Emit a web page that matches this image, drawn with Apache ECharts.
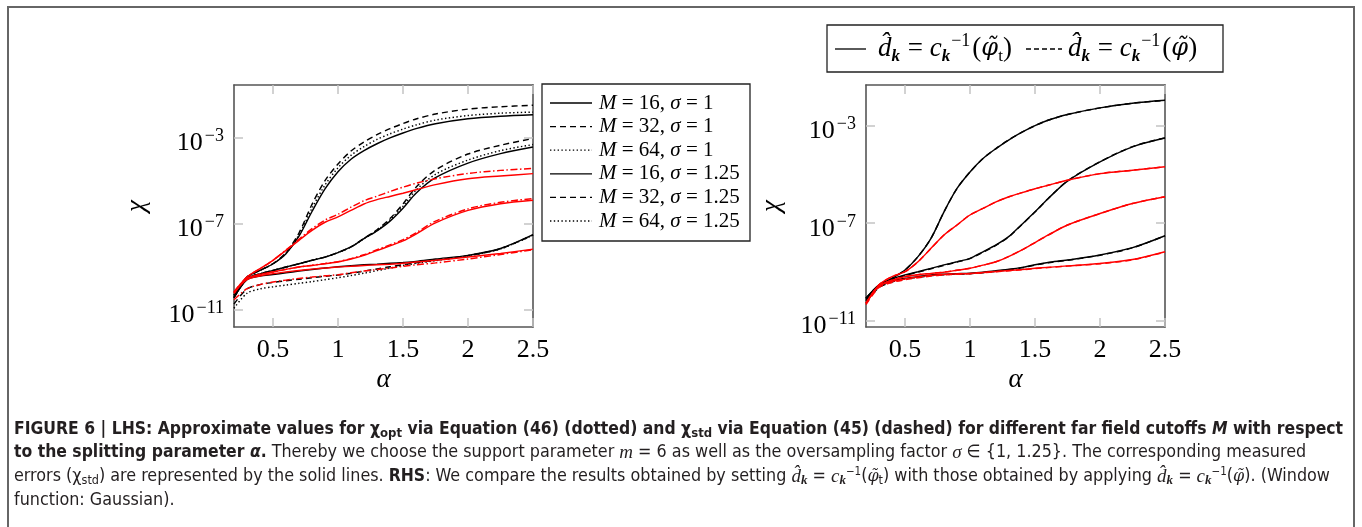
<!DOCTYPE html>
<html>
<head>
<meta charset="utf-8">
<script src="https://cdn.jsdelivr.net/npm/echarts@6.0.0/dist/echarts.min.js"></script>
<style>
  html, body { margin: 0; padding: 0; background: #fff; }
  #chart { width: 1362px; height: 527px; }
</style>
</head>
<body>
<div id="chart"></div>
<script>
// alpha (splitting parameter) sample points
const alpha = [0.2, 0.3, 0.4, 0.5, 0.6, 0.7, 0.8, 0.9, 1.0, 1.1, 1.2, 1.3, 1.4, 1.5, 1.6, 1.75, 2.0, 2.25, 2.5];

// LHS, values are log10(chi)
// black: sigma = 1, red: sigma = 1.25
const lhsBlackM16Solid  = [-10.35, -9.5, -9.19, -8.88, -8.41, -7.6, -6.45, -5.4, -4.6, -4.02, -3.62, -3.3, -3.03, -2.8, -2.6, -2.37, -2.14, -2.02, -1.95];
const lhsBlackM16Dashed = [-10.35, -9.5, -9.19, -8.88, -8.36, -7.45, -6.12, -5.02, -4.24, -3.64, -3.22, -2.88, -2.6, -2.36, -2.15, -1.92, -1.69, -1.58, -1.51];
const lhsBlackM16Dotted = [-10.35, -9.5, -9.19, -8.88, -8.39, -7.53, -6.3, -5.22, -4.42, -3.84, -3.43, -3.1, -2.84, -2.62, -2.43, -2.2, -1.99, -1.88, -1.83];
const lhsBlackM32Solid  = [-10.45, -9.57, -9.35, -9.19, -9.03, -8.88, -8.72, -8.57, -8.36, -8.1, -7.71, -7.35, -6.9, -6.3, -5.6, -4.88, -4.2, -3.76, -3.45];
const lhsBlackM32Dashed = [-10.45, -9.57, -9.35, -9.19, -9.03, -8.88, -8.72, -8.57, -8.36, -8.1, -7.7, -7.3, -6.78, -6.1, -5.32, -4.52, -3.78, -3.37, -3.06];
const lhsBlackM32Dotted = [-10.45, -9.57, -9.35, -9.19, -9.03, -8.88, -8.72, -8.57, -8.36, -8.1, -7.71, -7.33, -6.84, -6.2, -5.46, -4.72, -4.06, -3.62, -3.34];
const lhsBlackM64Solid  = [-10.45, -9.62, -9.45, -9.38, -9.3, -9.22, -9.15, -9.08, -9.02, -8.97, -8.93, -8.9, -8.86, -8.82, -8.77, -8.66, -8.49, -8.17, -7.53];
const lhsBlackM64Dashed = [-10.75, -10.05, -9.85, -9.75, -9.67, -9.6, -9.53, -9.46, -9.4, -9.32, -9.22, -9.12, -9.02, -8.92, -8.84, -8.72, -8.5, -8.18, -7.54];
const lhsBlackM64Dotted = [-10.95, -10.25, -10.05, -9.95, -9.87, -9.79, -9.71, -9.62, -9.53, -9.43, -9.32, -9.2, -9.08, -8.96, -8.86, -8.74, -8.51, -8.19, -7.55];
const lhsRedM16Solid    = [-10.19, -9.5, -9.11, -8.72, -8.26, -7.79, -7.33, -6.95, -6.7, -6.4, -6.1, -5.9, -5.75, -5.6, -5.44, -5.2, -4.93, -4.8, -4.69];
const lhsRedM16Approx   = [-10.19, -9.5, -9.11, -8.72, -8.24, -7.74, -7.25, -6.85, -6.58, -6.25, -5.95, -5.74, -5.52, -5.32, -5.14, -4.93, -4.68, -4.54, -4.45];
const lhsRedM32Solid    = [-10.25, -9.57, -9.38, -9.26, -9.14, -9.03, -8.96, -8.88, -8.8, -8.66, -8.49, -8.27, -8.05, -7.82, -7.5, -6.98, -6.4, -6.09, -5.93];
const lhsRedM32Approx   = [-10.25, -9.57, -9.38, -9.26, -9.14, -9.03, -8.95, -8.87, -8.78, -8.64, -8.46, -8.23, -8.0, -7.76, -7.44, -6.9, -6.33, -6.02, -5.85];
const lhsRedM64Solid    = [-10.2, -9.62, -9.45, -9.34, -9.26, -9.19, -9.13, -9.08, -9.03, -9.0, -8.96, -8.93, -8.9, -8.86, -8.8, -8.72, -8.57, -8.4, -8.2];
const lhsRedM64Approx   = [-10.55, -10.04, -9.85, -9.73, -9.64, -9.56, -9.5, -9.44, -9.39, -9.3, -9.22, -9.15, -9.08, -9.0, -8.93, -8.84, -8.66, -8.45, -8.23];

// RHS: solid = phi_t, dashed = phi
const rhsBlackM16Solid  = [-10.09, -9.54, -9.27, -8.93, -8.38, -7.63, -6.54, -5.58, -4.9, -4.35, -3.94, -3.58, -3.27, -3.0, -2.78, -2.54, -2.27, -2.08, -1.96];
const rhsBlackM16Dashed = [-10.09, -9.54, -9.27, -8.93, -8.38, -7.63, -6.54, -5.58, -4.9, -4.35, -3.94, -3.58, -3.27, -3.0, -2.78, -2.54, -2.27, -2.08, -1.96];
const rhsBlackM32Solid  = [-10.1, -9.56, -9.3, -9.13, -9.0, -8.86, -8.72, -8.59, -8.45, -8.18, -7.9, -7.55, -7.05, -6.54, -6.0, -5.28, -4.49, -3.87, -3.51];
const rhsBlackM32Dashed = [-10.1, -9.58, -9.32, -9.15, -9.02, -8.88, -8.74, -8.6, -8.46, -8.2, -7.92, -7.56, -7.06, -6.55, -6.0, -5.27, -4.48, -3.86, -3.5];
const rhsBlackM64Solid  = [-10.15, -9.6, -9.38, -9.27, -9.2, -9.13, -9.1, -9.08, -9.06, -9.02, -8.96, -8.9, -8.82, -8.71, -8.62, -8.52, -8.31, -8.01, -7.52];
const rhsBlackM64Dashed = [-10.2, -9.65, -9.42, -9.3, -9.23, -9.16, -9.12, -9.1, -9.08, -9.04, -8.98, -8.92, -8.84, -8.73, -8.63, -8.53, -8.32, -8.02, -7.52];
const rhsRedM16Solid    = [-10.29, -9.54, -9.2, -9.0, -8.59, -8.04, -7.49, -7.08, -6.67, -6.4, -6.13, -5.92, -5.75, -5.59, -5.45, -5.24, -4.97, -4.83, -4.69];
const rhsRedM16Dashed   = [-10.29, -9.54, -9.2, -9.0, -8.59, -8.04, -7.49, -7.08, -6.67, -6.4, -6.13, -5.92, -5.75, -5.59, -5.45, -5.24, -4.97, -4.83, -4.69];
const rhsRedM32Solid    = [-10.3, -9.58, -9.35, -9.2, -9.12, -9.07, -9.02, -8.94, -8.86, -8.73, -8.59, -8.37, -8.1, -7.8, -7.5, -7.08, -6.61, -6.2, -5.92];
const rhsRedM32Dashed   = [-10.3, -9.58, -9.35, -9.2, -9.12, -9.07, -9.02, -8.94, -8.86, -8.73, -8.59, -8.37, -8.1, -7.8, -7.5, -7.08, -6.61, -6.2, -5.92];
const rhsRedM64Solid    = [-10.3, -9.6, -9.4, -9.3, -9.22, -9.15, -9.11, -9.09, -9.07, -9.03, -8.99, -8.95, -8.91, -8.86, -8.82, -8.76, -8.66, -8.5, -8.18];
const rhsRedM64Dashed   = [-10.35, -9.65, -9.44, -9.33, -9.25, -9.18, -9.13, -9.1, -9.08, -9.04, -9.0, -8.96, -8.92, -8.87, -8.83, -8.77, -8.67, -8.51, -8.19];

// tick labels
const xTicks = [0.5, 1, 1.5, 2, 2.5];
const yTicks = [-11, -7, -3];
const legendLhs = [
  ['16', '1'], ['32', '1'], ['64', '1'],
  ['16', '1.25'], ['32', '1.25'], ['64', '1.25']
];

const SERIF = "'Liberation Serif', 'DejaVu Serif', serif";
const SANS = "'Liberation Sans Narrow', 'DejaVu Sans Condensed', 'Liberation Sans', sans-serif";
const BLACK = '#000000';
const RED = '#ff0000';
const DASH = [6, 4];
const DOT = [1.4, 2.4];
const DASHDOT = [7, 2.5, 1.5, 2.5];

function line(name, ys, color, type, gi) {
  return {
    name: name,
    type: 'line',
    xAxisIndex: gi * 2,
    yAxisIndex: gi * 2,
    data: alpha.map((a, i) => [a, ys[i]]),
    symbol: 'none',
    smooth: 0.3,
    silent: true,
    lineStyle: { color: color, width: 1.45, type: type }
  };
}

function xAxes(gi) {
  const base = {
    type: 'value', gridIndex: gi, min: 0.2, max: 2.5,
    splitLine: { show: false },
    axisLine: { show: true, lineStyle: { color: '#555', width: 1.6 } },
    axisTick: { show: true, inside: true, length: 9, customValues: xTicks,
      lineStyle: { color: '#c4c4c4', width: 1.5 } }
  };
  return [
    Object.assign({}, base, {
      position: 'bottom',
      name: 'α', nameLocation: 'middle', nameGap: 39,
      nameTextStyle: { fontFamily: SERIF, fontStyle: 'italic', fontSize: 27, color: '#000' },
      axisLabel: { customValues: xTicks, margin: 10, fontFamily: SERIF, fontSize: 26, color: '#000',
        formatter: v => String(v) }
    }),
    Object.assign({}, base, { position: 'top', axisLabel: { show: false } })
  ];
}

function yAxes(gi, min, max, gap) {
  const base = {
    type: 'value', gridIndex: gi, min: min, max: max,
    splitLine: { show: false },
    axisLine: { show: true, lineStyle: { color: '#555', width: 1.6 } },
    axisTick: { show: true, inside: true, length: 9, customValues: yTicks,
      lineStyle: { color: '#c4c4c4', width: 1.5 } }
  };
  return [
    Object.assign({}, base, {
      position: 'left',
      name: 'χ', nameLocation: 'middle', nameGap: gap, nameRotate: 90,
      nameTextStyle: { fontFamily: SERIF, fontStyle: 'italic', fontSize: 27, color: '#000' },
      axisLabel: {
        customValues: yTicks, margin: 10, color: '#000',
        formatter: v => '{b|10}{s|−' + Math.abs(v) + '}',
        rich: {
          b: { fontFamily: SERIF, fontSize: 26, lineHeight: 38, verticalAlign: 'bottom', color: '#000' },
          s: { fontFamily: SERIF, fontSize: 18, lineHeight: 27, padding: [9, 0, 0, 2], verticalAlign: 'top', color: '#000' }
        }
      }
    }),
    Object.assign({}, base, { position: 'right', axisLabel: { show: false } })
  ];
}

const series = [
  line('M=16 σ=1 measured', lhsBlackM16Solid, BLACK, 'solid', 0),
  line('M=16 σ=1 std', lhsBlackM16Dashed, BLACK, DASH, 0),
  line('M=16 σ=1 opt', lhsBlackM16Dotted, BLACK, DOT, 0),
  line('M=32 σ=1 measured', lhsBlackM32Solid, BLACK, 'solid', 0),
  line('M=32 σ=1 std', lhsBlackM32Dashed, BLACK, DASH, 0),
  line('M=32 σ=1 opt', lhsBlackM32Dotted, BLACK, DOT, 0),
  line('M=64 σ=1 measured', lhsBlackM64Solid, BLACK, 'solid', 0),
  line('M=64 σ=1 std', lhsBlackM64Dashed, BLACK, DASH, 0),
  line('M=64 σ=1 opt', lhsBlackM64Dotted, BLACK, DOT, 0),
  line('M=16 σ=1.25 measured', lhsRedM16Solid, RED, 'solid', 0),
  line('M=16 σ=1.25 approx', lhsRedM16Approx, RED, DASHDOT, 0),
  line('M=32 σ=1.25 measured', lhsRedM32Solid, RED, 'solid', 0),
  line('M=32 σ=1.25 approx', lhsRedM32Approx, RED, DASHDOT, 0),
  line('M=64 σ=1.25 measured', lhsRedM64Solid, RED, 'solid', 0),
  line('M=64 σ=1.25 approx', lhsRedM64Approx, RED, DASHDOT, 0),

  line('R M=16 σ=1 phi', rhsBlackM16Dashed, BLACK, DASH, 1),
  line('R M=16 σ=1 phi_t', rhsBlackM16Solid, BLACK, 'solid', 1),
  line('R M=32 σ=1 phi', rhsBlackM32Dashed, BLACK, DASH, 1),
  line('R M=32 σ=1 phi_t', rhsBlackM32Solid, BLACK, 'solid', 1),
  line('R M=64 σ=1 phi', rhsBlackM64Dashed, BLACK, DASH, 1),
  line('R M=64 σ=1 phi_t', rhsBlackM64Solid, BLACK, 'solid', 1),
  line('R M=16 σ=1.25 phi', rhsRedM16Dashed, RED, DASH, 1),
  line('R M=16 σ=1.25 phi_t', rhsRedM16Solid, RED, 'solid', 1),
  line('R M=32 σ=1.25 phi', rhsRedM32Dashed, RED, DASH, 1),
  line('R M=32 σ=1.25 phi_t', rhsRedM32Solid, RED, 'solid', 1),
  line('R M=64 σ=1.25 phi', rhsRedM64Dashed, RED, DASH, 1),
  line('R M=64 σ=1.25 phi_t', rhsRedM64Solid, RED, 'solid', 1)
];

// legend boxes and caption are drawn as graphic elements
const PHI = "'DejaVu Serif', serif";
const mathRich = {
  i: { fontFamily: SERIF, fontStyle: 'italic', fontSize: 21, fill: '#000' },
  r: { fontFamily: SERIF, fontSize: 21, fill: '#000' }
};
const graphics = [];
// outer figure frame
graphics.push({ type: 'rect', shape: { x: 8, y: 7, width: 1346, height: 560 },
  style: { fill: 'none', stroke: '#666', lineWidth: 2 }, silent: true });

// left legend
graphics.push({ type: 'rect', shape: { x: 542, y: 84, width: 208, height: 157 },
  style: { fill: '#fff', stroke: '#222', lineWidth: 1.3 }, silent: true });
const legendDash = ['solid', DASH, DOT, 'solid', DASH, DOT];
legendLhs.forEach((e, k) => {
  const y = 103 + k * 23.6;
  const d = legendDash[k];
  graphics.push({ type: 'line', shape: { x1: 550, y1: y, x2: 592, y2: y },
    style: { stroke: '#000', lineWidth: 1.3, lineDash: d === 'solid' ? null : d }, silent: true });
  graphics.push({ type: 'text', x: 599, y: y, silent: true,
    style: { text: '{i|M}{r| = ' + e[0] + ', }{i|σ}{r| = ' + e[1] + '}', verticalAlign: 'middle',
      rich: mathRich } });
});

// right legend
graphics.push({ type: 'rect', shape: { x: 827, y: 25, width: 396, height: 47 },
  style: { fill: '#fff', stroke: '#222', lineWidth: 1.3 }, silent: true });
graphics.push({ type: 'line', shape: { x1: 835, y1: 49, x2: 866, y2: 49 },
  style: { stroke: '#000', lineWidth: 1.3 }, silent: true });
graphics.push({ type: 'line', shape: { x1: 1026, y1: 49, x2: 1062, y2: 49 },
  style: { stroke: '#000', lineWidth: 1.3, lineDash: [5, 3] }, silent: true });
const legRich = {
  i: { fontFamily: SERIF, fontStyle: 'italic', fontSize: 27, lineHeight: 36, verticalAlign: 'middle', fill: '#000' },
  f: { fontFamily: PHI, fontStyle: 'italic', fontSize: 24, lineHeight: 36, verticalAlign: 'middle', fill: '#000' },
  r: { fontFamily: SERIF, fontSize: 27, lineHeight: 36, verticalAlign: 'middle', fill: '#000' },
  k: { fontFamily: SERIF, fontStyle: 'italic', fontWeight: 'bold', fontSize: 17, verticalAlign: 'bottom', padding: [0, 1, 2, 0], fill: '#000' },
  t: { fontFamily: SERIF, fontSize: 17, verticalAlign: 'bottom', padding: [0, 0, 2, 0], fill: '#000' },
  p: { fontFamily: SERIF, fontSize: 18, verticalAlign: 'top', padding: [1, 2, 0, 0], fill: '#000' }
};
graphics.push({ type: 'text', x: 878, y: 49, silent: true,
  style: { text: '{i|d̂}{k|k}{r| = }{i|c}{k|k}{p|−1}{r|(}{f|φ̃}{t|t}{r|)}', verticalAlign: 'middle', rich: legRich } });
graphics.push({ type: 'text', x: 1068, y: 49, silent: true,
  style: { text: '{i|d̂}{k|k}{r| = }{i|c}{k|k}{p|−1}{r|(}{f|φ̃}{r|)}', verticalAlign: 'middle', rich: legRich } });

// caption
const CB = 17.4;   // bold size
const CR = 17.8;   // regular size
const capRich = {
  b: { fontFamily: SANS, fontWeight: 'bold', fontSize: CB, lineHeight: 22, fill: '#231f20' },
  bi: { fontFamily: SANS, fontWeight: 'bold', fontStyle: 'italic', fontSize: CB, lineHeight: 22, fill: '#231f20' },
  bs: { fontFamily: SANS, fontWeight: 'bold', fontSize: 13, verticalAlign: 'bottom', fill: '#231f20' },
  i: { fontFamily: SERIF, fontStyle: 'italic', fontSize: 19, lineHeight: 22, fill: '#231f20' },
  f: { fontFamily: PHI, fontStyle: 'italic', fontSize: 16, lineHeight: 22, fill: '#231f20' },
  s: { fontFamily: SANS, fontSize: 12.5, verticalAlign: 'bottom', fill: '#231f20' },
  ks: { fontFamily: SERIF, fontWeight: 'bold', fontStyle: 'italic', fontSize: 13, verticalAlign: 'bottom', fill: '#231f20' },
  p: { fontFamily: SANS, fontSize: 11.5, verticalAlign: 'top', fill: '#231f20' }
};
const captionLines = [
  '{b|FIGURE 6 | LHS: Approximate values for χ}{bs|opt}{b| via Equation (46) (dotted) and χ}{bs|std}{b| via Equation (45) (dashed) for different far field cutoffs }{bi|M}{b| with respect}',
  '{b|to the splitting parameter }{bi|α}{b|.} Thereby we choose the support parameter {i|m} = 6 as well as the oversampling factor {i|σ} ∈ {1, 1.25}. The corresponding measured',
  'errors (χ{s|std}) are represented by the solid lines. {b|RHS}: We compare the results obtained by setting {i|d̂}{ks|k} = {i|c}{ks|k}{p|−1}({f|φ̃}{s|t}) with those obtained by applying {i|d̂}{ks|k} = {i|c}{ks|k}{p|−1}({f|φ̃}). (Window',
  'function: Gaussian).'
];
captionLines.forEach((t, k) => {
  graphics.push({ type: 'text', x: 14, y: 429 + k * 23.8, silent: true,
    style: { text: t, fontFamily: SANS, fontSize: CR, lineHeight: 22, fill: '#231f20',
      verticalAlign: 'middle', rich: capRich } });
});

const chart = echarts.init(document.getElementById('chart'), null, { renderer: 'canvas' });
chart.setOption({
  animation: false,
  backgroundColor: '#ffffff',
  grid: [
    { left: 234, top: 85, width: 299, height: 242 },
    { left: 866, top: 85, width: 299, height: 242 }
  ],
  xAxis: xAxes(0).concat(xAxes(1)),
  yAxis: yAxes(0, -11.82, -0.57, 84).concat(yAxes(1, -11.27, -1.33, 81)),
  series: series,
  graphic: graphics
});
</script>
</body>
</html>
